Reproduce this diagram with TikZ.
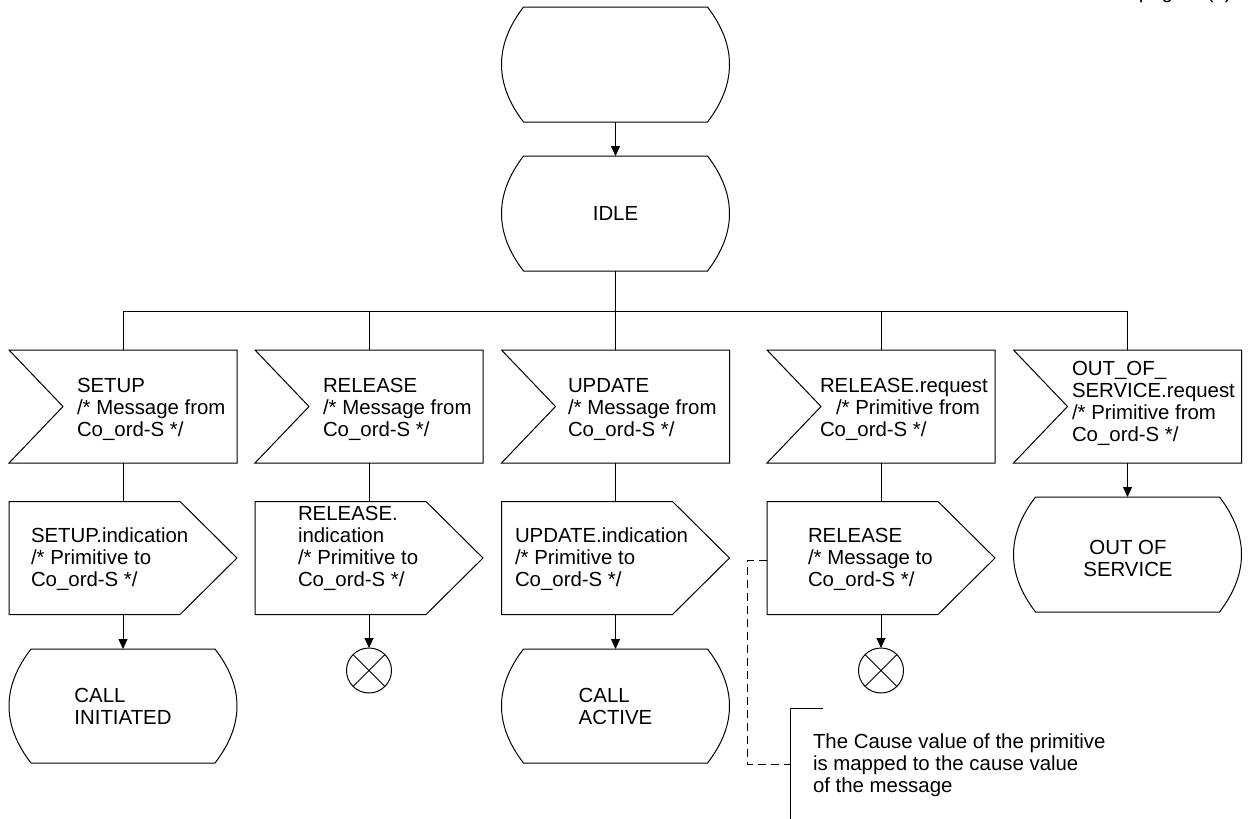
\documentclass[tikz,border=0pt]{standalone}
\usepackage{fontspec}
\setmainfont{Liberation Sans}
\usetikzlibrary{arrows.meta,calc}

\tikzset{
  outline/.style={draw=black, line width=1pt, line join=miter},
  box/.style={draw=none, inner sep=0pt, outer sep=0pt, minimum width=228pt, minimum height=113pt},
  statebox/.style={box, minimum height=115pt, align=left},
  stopbox/.style={circle, draw=black, line width=1pt, inner sep=0pt, outer sep=0pt, minimum size=45pt},
  lbl/.style={inner sep=0pt, outer sep=0pt, anchor=west, align=left},
  flow/.style={line width=1pt},
  flowarrow/.style={flow, -{Triangle[length=10pt,width=9pt]}},
  noteline/.style={line width=1pt, dash pattern=on 8pt off 5pt},
}

% SDL symbol outlines drawn around named rectangular nodes
% (state sides: parabolic arcs written as cubic curves)
\newcommand\sdlStateOutline[1]{%
  \draw[outline] ([xshift=22pt]#1.north west) -- ([xshift=-22pt]#1.north east)
    .. controls ($(#1.north east)!1/3!(#1.south east)+(7.33,0)$)
       and ($(#1.north east)!2/3!(#1.south east)+(7.33,0)$) .. ([xshift=-22pt]#1.south east)
    -- ([xshift=22pt]#1.south west)
    .. controls ($(#1.north west)!2/3!(#1.south west)+(-7.33,0)$)
       and ($(#1.north west)!1/3!(#1.south west)+(-7.33,0)$) .. ([xshift=22pt]#1.north west) -- cycle;}
\newcommand\sdlInputOutline[1]{%
  \draw[outline] (#1.north west) -- (#1.north east) -- (#1.south east)
    -- (#1.south west) -- ([xshift=54pt]#1.west) -- cycle;}
\newcommand\sdlOutputOutline[1]{%
  \draw[outline] (#1.north west) -- ([xshift=-57pt]#1.north east) -- (#1.east)
    -- ([xshift=-57pt]#1.south east) -- (#1.south west) -- cycle;}
\newcommand\sdlStopOutline[1]{%
  \draw[flow] (#1.north west) -- (#1.south east) (#1.north east) -- (#1.south west);}

\begin{document}
\begin{tikzpicture}[x=1pt,y=-1pt,font=\fontsize{20.4}{22}\selectfont]
\useasboundingbox (0,0) rectangle (1248,819);

% page reference
\node[anchor=base east, inner sep=0pt] (pg) at (1232,-1.5) {page 1 (1)};

% start and IDLE states
\node[statebox] (start) at (615.5,64.5) {};
\node[statebox] (idle) at (615.5,213.5) {IDLE};
\sdlStateOutline{start}
\sdlStateOutline{idle}
\draw[flowarrow] (start.south) -- (idle.north);

% input signals
\node[box] (in1) at (123,406.5) {};
\node[box] (in2) at (369,406.5) {};
\node[box] (in3) at (615.5,406.5) {};
\node[box] (in4) at (881,406.5) {};
\node[box] (in5) at (1127.5,406.5) {};
\foreach \n in {in1,in2,in3,in4,in5} {\sdlInputOutline{\n}}
\node[lbl] (in1t) at (77,409.6) {SETUP\\/* Message from\\Co\_ord-S */};
\node[lbl] (in2t) at (323,409.6) {RELEASE\\/* Message from\\Co\_ord-S */};
\node[lbl] (in3t) at (568,409.6) {UPDATE\\/* Message from\\Co\_ord-S */};
\node[lbl] (in4t) at (820,409.6) {RELEASE.request\\\hspace*{16pt}/* Primitive from\\Co\_ord-S */};
\node[lbl] (in5t) at (1072,403.5) {OUT\_OF\_\\SERVICE.request\\/* Primitive from\\Co\_ord-S */};

% branching from IDLE
\coordinate (bus) at (615.5,311);
\draw[flow] (idle.south) -- (bus);
\draw[flow] (in1.north) -- (in1.north |- bus) -- (in5.north |- bus) -- (in5.north);
\foreach \n in {in2,in3,in4} {\draw[flow] (\n.north) -- (\n.north |- bus);}

% output signals
\node[box] (out1) at (123,558) {};
\node[box] (out2) at (369,558) {};
\node[box] (out3) at (615.5,558) {};
\node[box] (out4) at (881,558) {};
\foreach \n in {out1,out2,out3,out4} {\sdlOutputOutline{\n}}
\node[lbl] (out1t) at (31,559.6) {SETUP.indication\\/* Primitive to\\Co\_ord-S */};
\node[lbl] (out2t) at (298,548.6) {RELEASE.\\indication\\/* Primitive to\\Co\_ord-S */};
\node[lbl] (out3t) at (515,559.6) {UPDATE.indication\\/* Primitive to\\Co\_ord-S */};
\node[lbl] (out4t) at (808,559.6) {RELEASE\\/* Message to\\Co\_ord-S */};
\foreach \a/\b in {in1/out1,in2/out2,in3/out3,in4/out4} {\draw[flow] (\a.south) -- (\b.north);}

% resulting states and stops
\node[statebox, minimum height=114pt] (init) at (123,706) {CALL\\INITIATED};
\node[statebox, minimum height=114pt] (active) at (615.5,706) {CALL\\ACTIVE};
\node[statebox] (oos) at (1127.5,554.5) {};
\node[lbl, anchor=center, align=center] (oost) at (1128,558) {OUT OF\\SERVICE};
\sdlStateOutline{init}
\sdlStateOutline{active}
\sdlStateOutline{oos}
\node[stopbox] (stop2) at (369,670.5) {};
\node[stopbox] (stop4) at (881,670.5) {};
\sdlStopOutline{stop2}
\sdlStopOutline{stop4}
\draw[flowarrow] (out1.south) -- (init.north);
\draw[flowarrow] (out2.south) -- (stop2.north);
\draw[flowarrow] (out3.south) -- (active.north);
\draw[flowarrow] (out4.south) -- (stop4.north);
\draw[flowarrow] (in5.south) -- (oos.north);

% comment attached to the RELEASE output
\coordinate (notetop) at (790,708);
\coordinate (notejoin) at (790,764);
\coordinate (notebot) at (790,819);
\draw[flow] ([xshift=33pt]notetop) -- (notetop) -- (notebot);
\draw[noteline] ([yshift=-2.5pt]out4.west) -- ([xshift=-20pt,yshift=-2.5pt]out4.west) |- (notejoin);
\node[lbl] (notet) at (813,765.3) {The Cause value of the primitive\\is mapped to the cause value\\of the message};
\end{tikzpicture}
\end{document}
